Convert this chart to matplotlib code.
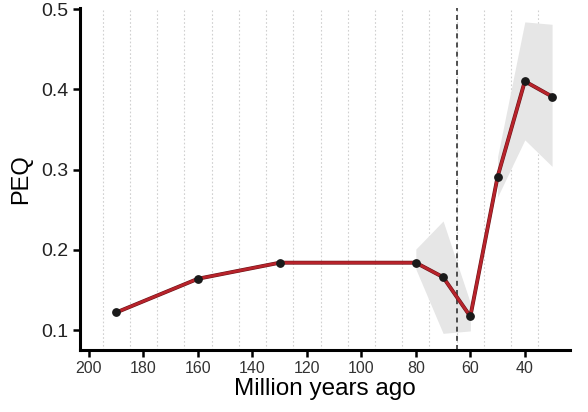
import numpy as np
import matplotlib.pyplot as plt
import matplotlib.patheffects as pe

plt.rcParams['font.family'] = ['Liberation Sans', 'DejaVu Sans']

# PEQ through time
mya = [190, 160, 130, 80, 70, 60, 50, 40, 30]
peq = [0.122, 0.164, 0.184, 0.184, 0.166, 0.117, 0.291, 0.410, 0.391]

# uncertainty ribbons (two separate pieces)
rib1_x = [80, 70, 60]
rib1_lo = [0.176, 0.096, 0.099]
rib1_hi = [0.201, 0.236, 0.134]
rib2_x = [50, 40, 30]
rib2_lo = [0.266, 0.337, 0.304]
rib2_hi = [0.316, 0.484, 0.481]

kpg = 65
grid_x = list(range(195, 30, -10))
xticks = [200, 180, 160, 140, 120, 100, 80, 60, 40]
yticks = [0.1, 0.2, 0.3, 0.4, 0.5]

fig = plt.figure(figsize=(5.88, 4.12), dpi=100)
ax = fig.add_axes([0.136, 0.150, 0.833, 0.830])

for g in grid_x:
    ax.axvline(g, color='#d0d0d0', lw=0.8, ls=(0, (1.5, 2)), zorder=0)

ax.fill_between(rib1_x, rib1_lo, rib1_hi, color='#e6e6e6', lw=0, zorder=1)
ax.fill_between(rib2_x, rib2_lo, rib2_hi, color='#e6e6e6', lw=0, zorder=1)

ax.axvline(kpg, color='#333333', lw=1.2, ls=(0, (3, 2.5)), zorder=2)

ax.plot(mya, peq, color='#b8232b', lw=2.0, zorder=3,
        path_effects=[pe.Stroke(linewidth=2.8, foreground='#6a1418'), pe.Normal()])
ax.scatter(mya, peq, s=28, color='#1a1a1a', zorder=4)

ax.set_xlim(203.3, 23.5)
ax.set_ylim(0.075, 0.501)
ax.set_xticks(xticks)
ax.set_xticklabels([str(t) for t in xticks], fontsize=11.5, color='#333333')
ax.set_yticks(yticks)
ax.set_yticklabels([f'{t:.1f}' for t in yticks], fontsize=14, color='#222222')

for side in ['top', 'right']:
    ax.spines[side].set_visible(False)
for side in ['left', 'bottom']:
    ax.spines[side].set_linewidth(2.2)
ax.tick_params(width=1.8, length=5, pad=3)

ax.set_xlabel('Million years ago', fontsize=17.5, labelpad=1)
ax.set_ylabel('PEQ', fontsize=17, labelpad=7)

fig.savefig('out.png', dpi=100)
